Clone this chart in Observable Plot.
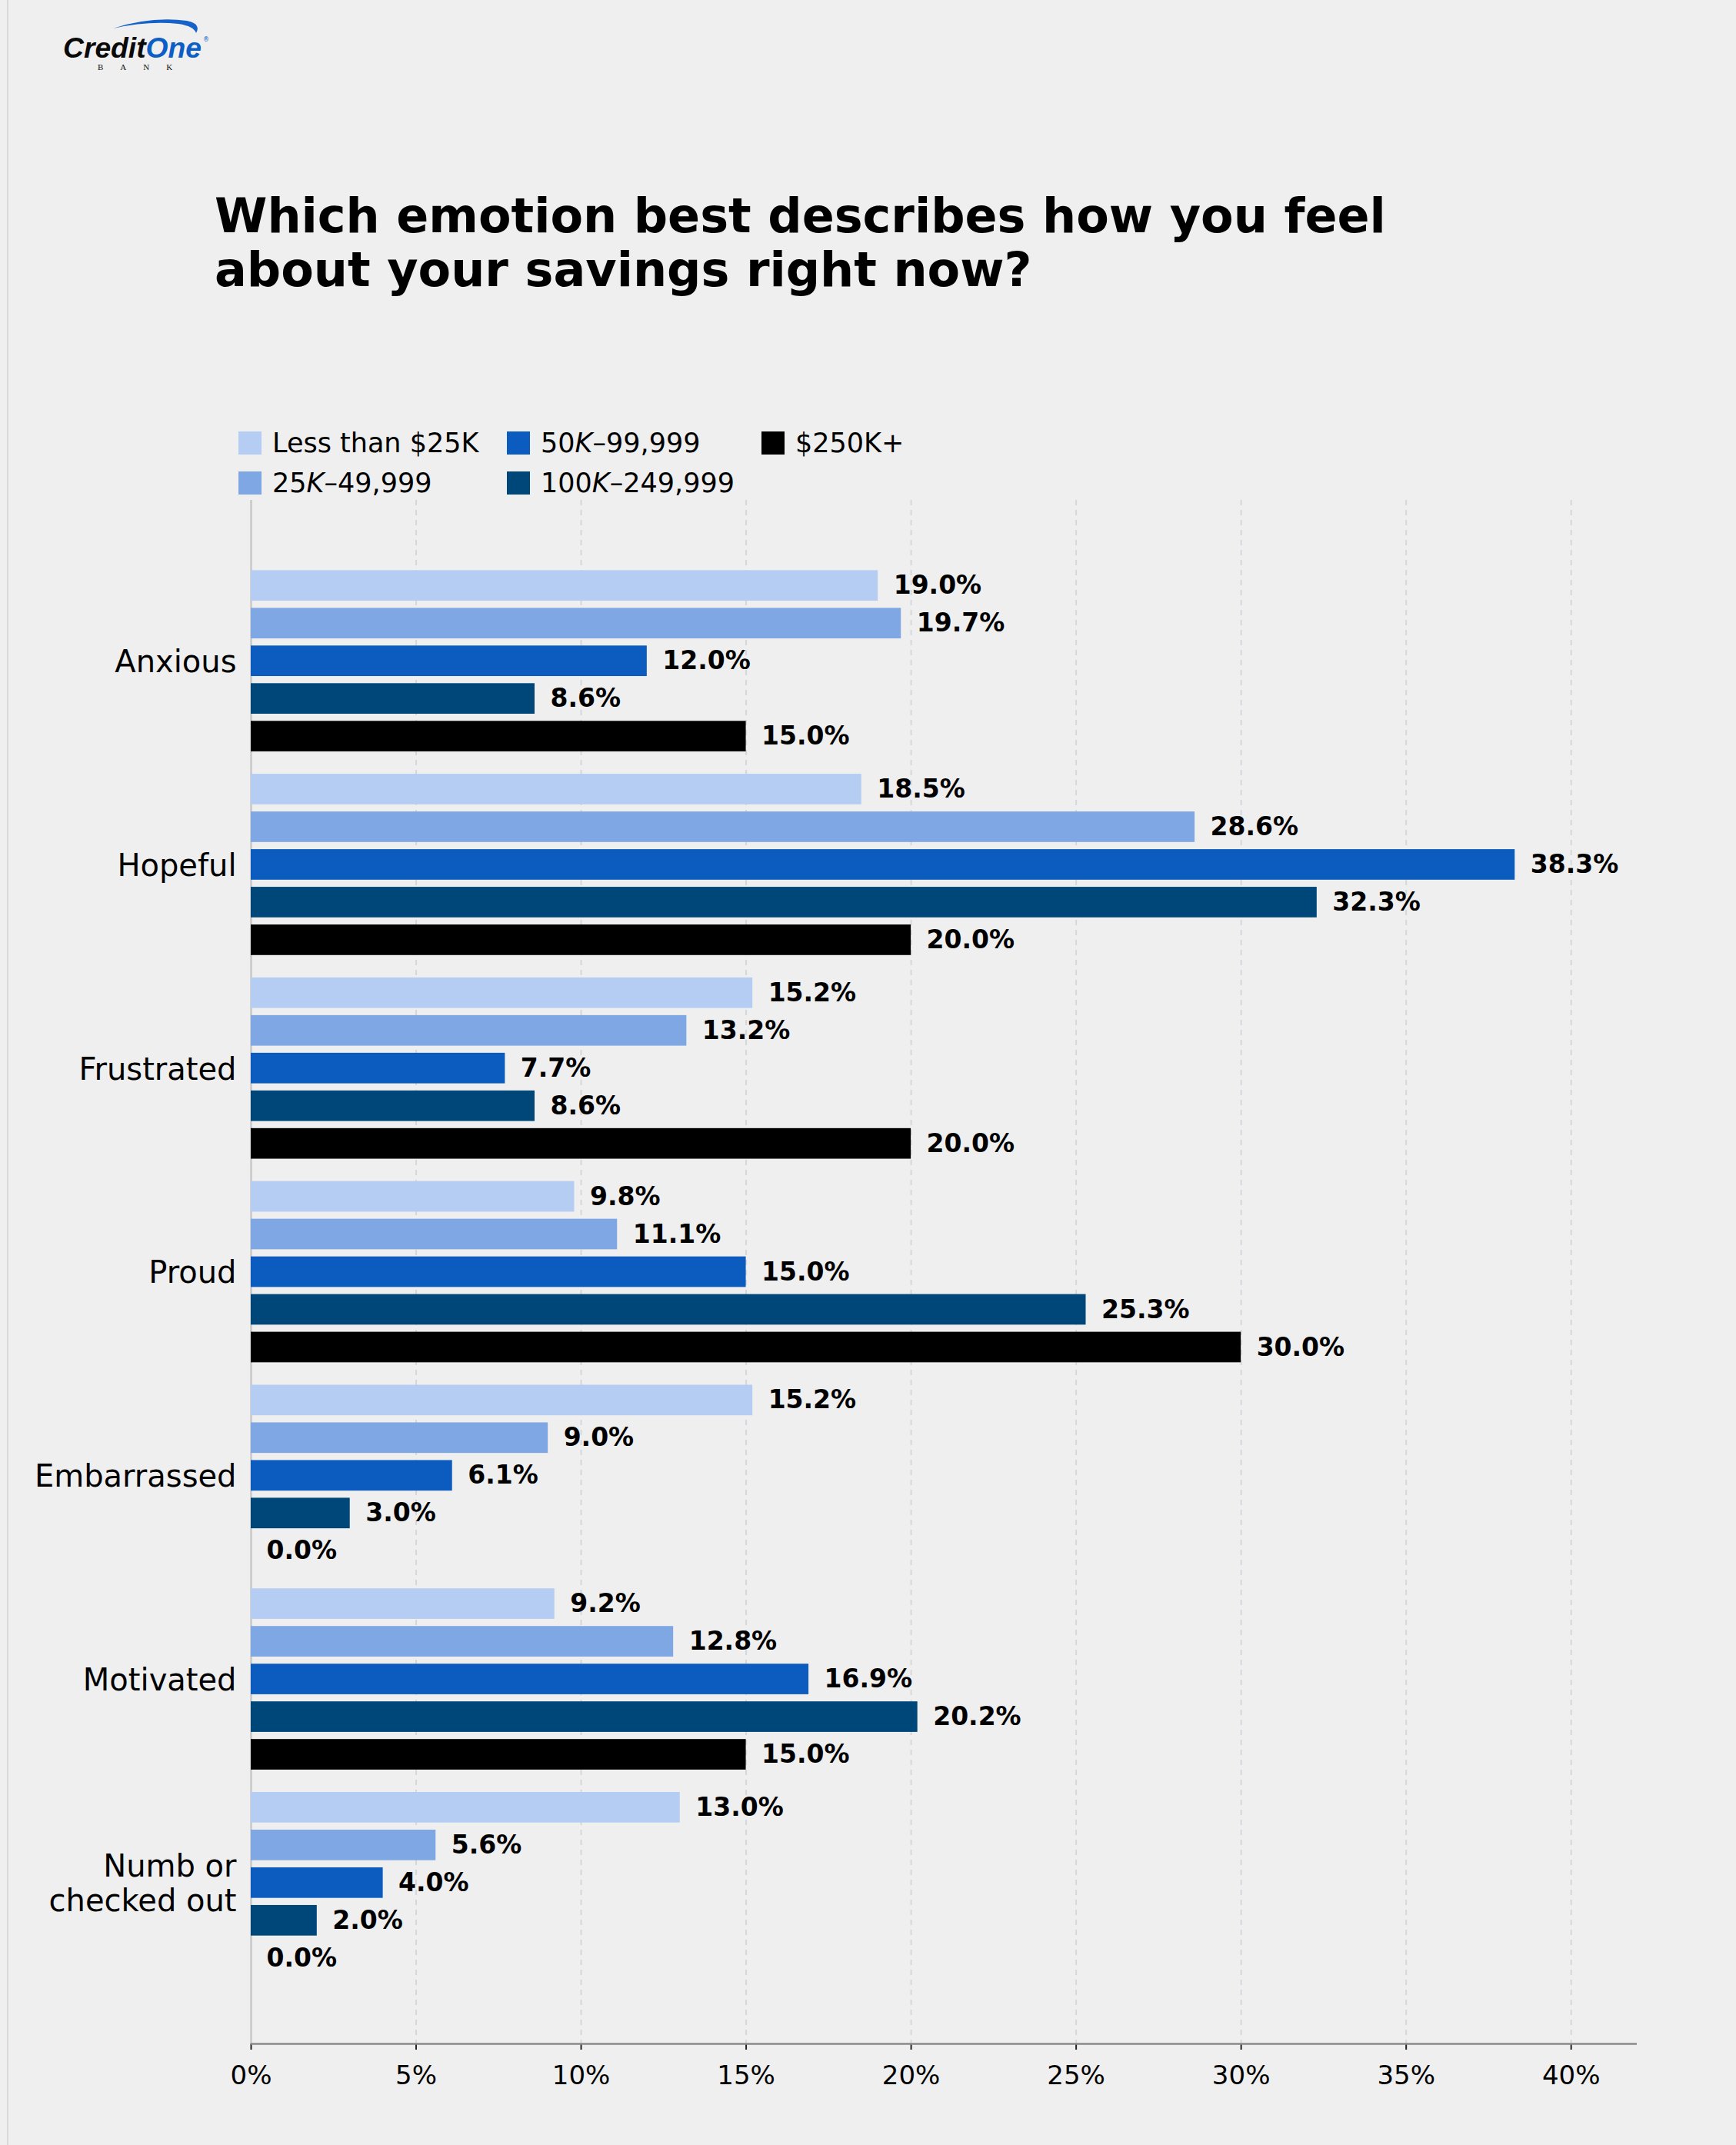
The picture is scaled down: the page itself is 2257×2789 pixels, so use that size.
<!DOCTYPE html>
<html><head><meta charset="utf-8">
<script src="https://cdn.jsdelivr.net/npm/d3@7"></script>
<script src="https://cdn.jsdelivr.net/npm/@observablehq/plot@0.6"></script>
<style>
html,body{margin:0;padding:0;background:#efefef;}
#page{position:relative;width:2257px;height:2789px;background:#efefef;overflow:hidden;font-family:"DejaVu Sans",sans-serif;}
#border{position:absolute;left:9px;top:0;width:2px;height:2789px;background:#d9d9d9;z-index:2;}
#logo{position:absolute;left:0;top:0;z-index:2;}
#title{position:absolute;left:279px;top:246px;font-size:62px;font-weight:bold;line-height:70px;color:#000;margin:0;white-space:nowrap;z-index:2;}
#legend{position:absolute;left:310px;top:550px;display:grid;grid-auto-flow:column;grid-template-rows:52px 52px;grid-template-columns:349px 331px auto;z-index:2;}
.item{display:flex;align-items:center;height:52px;}
.sw{width:30px;height:30px;margin-right:14px;flex:none;}
.lab{font-size:35px;line-height:35px;color:#000;white-space:nowrap;}
#chart{position:absolute;left:0;top:600px;z-index:1;}
</style>
</head><body>
<div id="page">
  <div id="border"></div>
  <svg id="logo" width="320" height="110" viewBox="0 0 320 110">
    <path d="M147,37 Q196,21 243,27 Q262,31 255,43 Q252,34 232,31 Q192,27 147,37 Z" fill="#1662c9"/>
    <text x="82" y="75" font-family="Liberation Sans" font-style="italic" font-weight="bold" font-size="36" textLength="180" lengthAdjust="spacingAndGlyphs"><tspan fill="#0a0a0a">Credit</tspan><tspan fill="#0d5fc6">One</tspan></text>
    <text x="264" y="54" font-family="DejaVu Sans" font-size="8" fill="#0d5fc6">®</text>
    <text x="127" y="91" font-family="Liberation Serif" font-size="11" fill="#111" letter-spacing="22">BANK</text>
  </svg>
  <h1 id="title">Which emotion best describes how you feel<br>about your savings right now?</h1>
  <div id="legend"></div>
  <div id="chart"></div>
</div>
<script>
// ---- data ----
const emotions = ["Anxious", "Hopeful", "Frustrated", "Proud", "Embarrassed", "Motivated", "Numb or checked out"];
const series = ["Less than $25K", "25K–49,999", "50K–99,999", "100K–249,999", "$250K+"];
const colors = ["#b5cdf2", "#7fa7e3", "#0b5cbe", "#004779", "#000000"];
const lessThan25K = [19.0, 18.5, 15.2, 9.8, 15.2, 9.2, 13.0];
const k25to49 = [19.7, 28.6, 13.2, 11.1, 9.0, 12.8, 5.6];
const k50to99 = [12.0, 38.3, 7.7, 15.0, 6.1, 16.9, 4.0];
const k100to249 = [8.6, 32.3, 8.6, 25.3, 3.0, 20.2, 2.0];
const k250plus = [15.0, 20.0, 20.0, 30.0, 0.0, 15.0, 0.0];
const xTicks = [0, 5, 10, 15, 20, 25, 30, 35, 40];
const axisLabels = {"Numb or checked out": "Numb or\nchecked out"};

// ---- table ----
const valuesBySeries = [lessThan25K, k25to49, k50to99, k100to249, k250plus];
const step = 0.185, barH = 0.15;
const rows = [];
emotions.forEach((e, ei) => {
  series.forEach((s, si) => {
    const yc = ei + (si - 2) * step;
    rows.push({emotion: e, series: s, value: valuesBySeries[si][ei], yc, y1: yc - barH / 2, y2: yc + barH / 2});
  });
});
const yMin = -0.79, yMax = emotions.length - 1 + 0.79;

// ---- legend ----
const legend = document.getElementById("legend");
series.forEach((s, i) => {
  const item = document.createElement("div");
  item.className = "item";
  const sw = document.createElement("div");
  sw.className = "sw";
  sw.style.background = colors[i];
  const lab = document.createElement("span");
  lab.className = "lab";
  lab.innerHTML = s.replace(/^(\d+)K/, "$1<i>K</i>");
  item.appendChild(sw);
  item.appendChild(lab);
  legend.appendChild(item);
});

// ---- chart ----
const chart = Plot.plot({
  width: 2257,
  height: 2189,
  marginTop: 50,
  marginBottom: 132,
  marginLeft: 326,
  marginRight: 129,
  style: {fontFamily: "DejaVu Sans", background: "transparent", color: "#000"},
  x: {type: "linear", domain: [0, 42]},
  y: {type: "linear", domain: [yMin, yMax], reverse: true},
  color: {domain: series, range: colors},
  marks: [
    Plot.gridX(xTicks.filter(d => d > 0), {stroke: "#d4d7dc", strokeOpacity: 1, strokeWidth: 2, strokeDasharray: "7,6"}),
    Plot.ruleX([0], {stroke: "#c9c9c9", strokeWidth: 2.5}),
    Plot.rect(rows, {x1: 0, x2: "value", y1: "y1", y2: "y2", fill: "series"}),
    Plot.text(rows, {x: "value", y: "yc", text: d => d.value.toFixed(1) + "%", dx: 20, textAnchor: "start", fontWeight: "bold", fontSize: 33, fill: "#000"}),
    Plot.axisY(d3.range(emotions.length), {
      tickFormat: i => axisLabels[emotions[i]] || emotions[i],
      tickSize: 0, tickPadding: 19, fontSize: 40, lineHeight: 1.12, label: null
    }),
    Plot.axisX(xTicks, {
      tickFormat: d => d + "%", tickSize: 8, tickPadding: 20, fontSize: 34, strokeWidth: 2, stroke: "#222", label: null
    }),
    Plot.ruleY([yMax], {stroke: "#8a8a8a", strokeWidth: 2.5})
  ]
});
document.getElementById("chart").appendChild(chart);
</script>
</body></html>
